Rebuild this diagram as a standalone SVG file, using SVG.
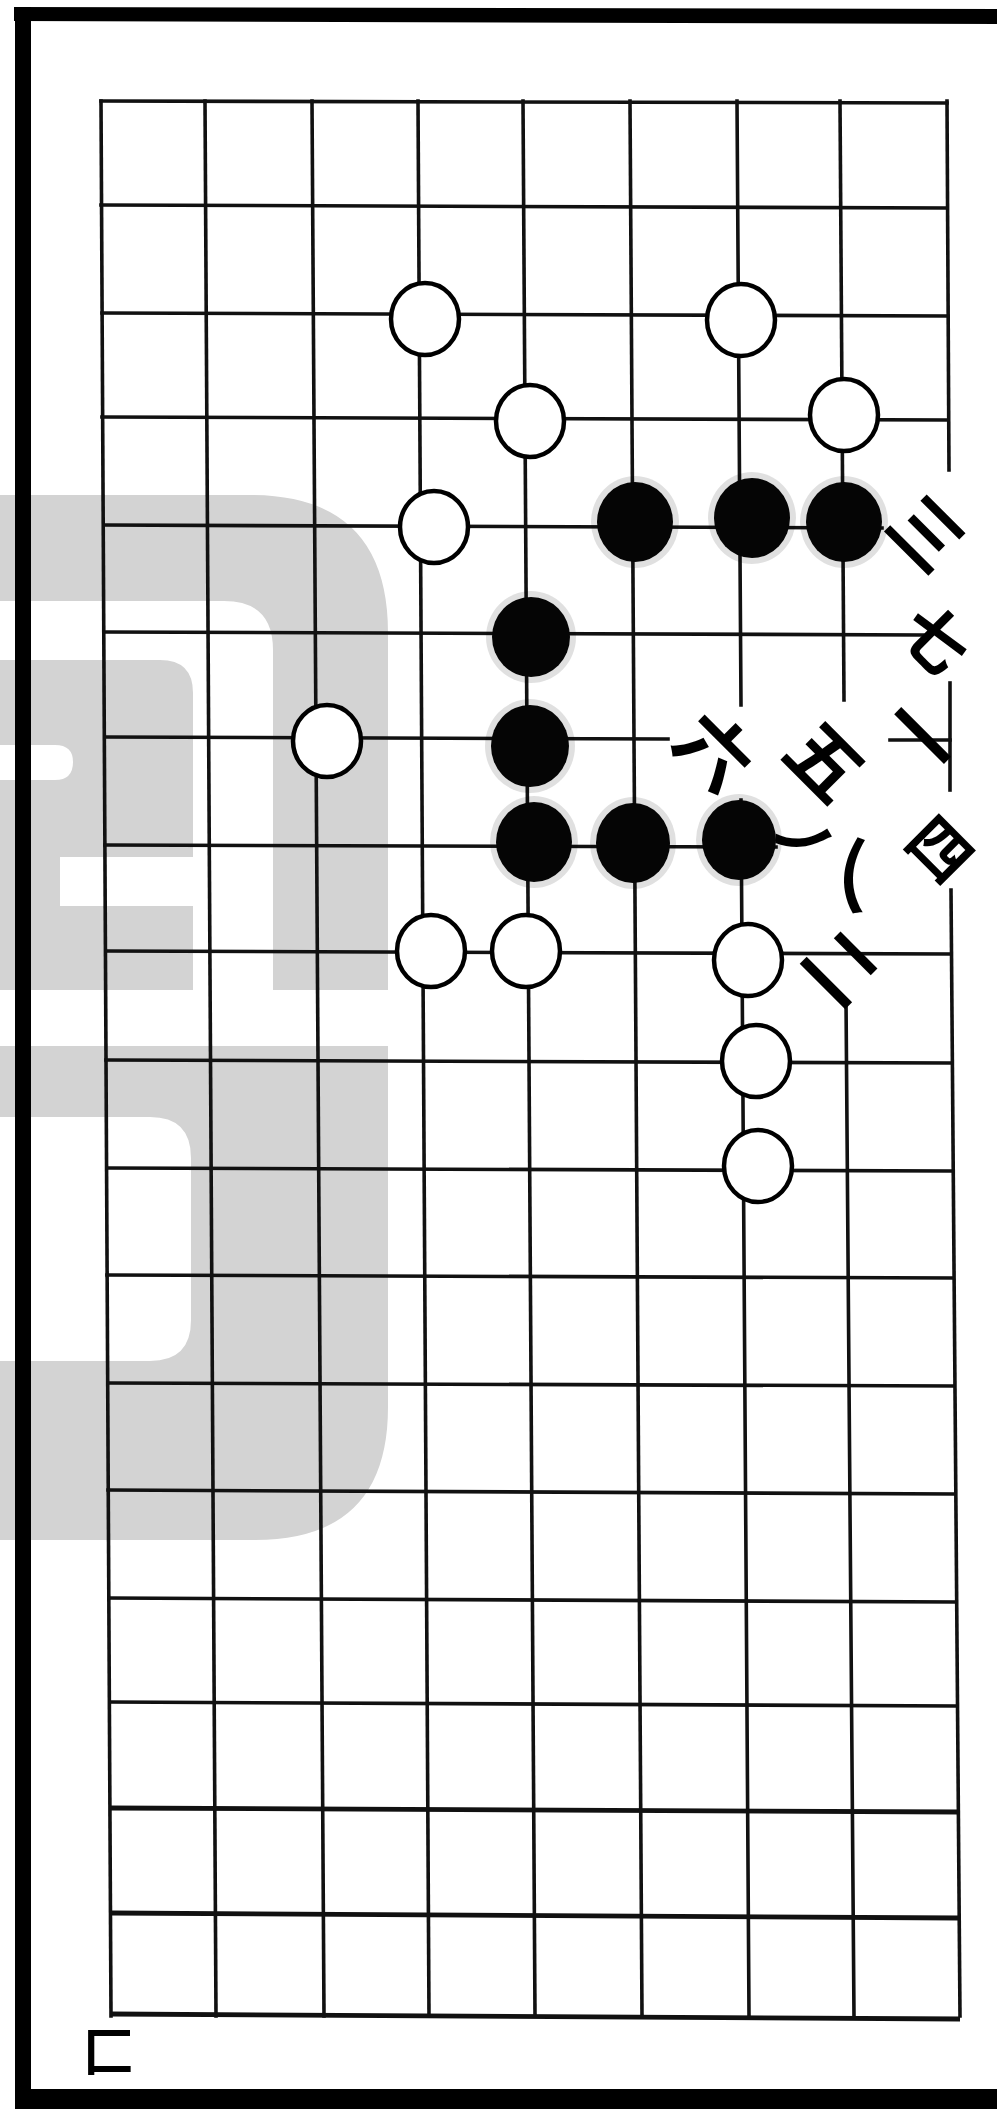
<svg xmlns="http://www.w3.org/2000/svg" width="997" height="2109" viewBox="0 0 997 2109">
<style>
.g{stroke:#111;stroke-width:3.6;stroke-linecap:square;fill:none}
.gb{stroke:#111;stroke-width:4.8;fill:none}
.w{fill:#fff;stroke:#000;stroke-width:4.5}
.b{fill:#050505}
.h{fill:#000;opacity:0.12}
.t{font-family:"Noto Sans CJK JP","Noto Sans CJK SC",sans-serif;font-weight:700;fill:#000;text-anchor:middle;dominant-baseline:central}
.wm{fill:#d3d3d3;fill-rule:evenodd}
</style>
<rect width="997" height="2109" fill="#fff"/>
<g id="watermark">
<path class="wm" d="M0,495 H250 Q388,495 388,633 V990 H273 V650 Q273,601 224,601 H0 Z"/>
<path class="wm" d="M0,660 H160 Q193,660 193,693 V990 H0 Z M0,745 H55 Q73,745 73,762 Q73,780 55,780 H0 Z M60,857 H193 V906 H60 Z"/>
<path class="wm" d="M0,1046 H388 V1407 Q388,1540 255,1540 H0 Z M0,1117 H150 Q191,1117 191,1158 V1320 Q191,1361 150,1361 H0 Z"/>
</g>
<g id="frame">
<path d="M14,7 L997,9 L997,24 L14,21 Z" fill="#000"/>
<rect x="15" y="7" width="16" height="2102" fill="#000"/>
<rect x="15" y="2089" width="982" height="20" fill="#000"/>
</g>
<g id="grid">
<line class="g" x1="101" y1="101" x2="111" y2="2016"/>
<line class="g" x1="205" y1="101" x2="216" y2="2016"/>
<line class="g" x1="312" y1="101" x2="324" y2="2016"/>
<line class="g" x1="418" y1="101" x2="429" y2="2016"/>
<line class="g" x1="523" y1="101" x2="535" y2="2016"/>
<line class="g" x1="630" y1="101" x2="642" y2="2016"/>
<line class="g" x1="737" y1="101" x2="741" y2="705"/>
<line class="g" x1="741" y1="800" x2="749" y2="2016"/>
<line class="g" x1="840" y1="101" x2="844" y2="700"/>
<line class="g" x1="846" y1="1000" x2="854" y2="2016"/>
<line class="g" x1="947" y1="101" x2="949" y2="470"/>
<line class="g" x1="950" y1="683" x2="950" y2="790"/>
<line class="g" x1="951" y1="890" x2="960" y2="2016"/>
<line class="g" x1="101" y1="101" x2="947" y2="103"/>
<line class="g" x1="101" y1="205" x2="947" y2="208"/>
<line class="g" x1="102" y1="313" x2="948" y2="316"/>
<line class="g" x1="102" y1="417" x2="948" y2="420"/>
<line class="g" x1="104" y1="525" x2="882" y2="528"/>
<line class="g" x1="104" y1="632" x2="923" y2="635"/>
<line class="g" x1="105" y1="737" x2="668" y2="739"/>
<line class="g" x1="890" y1="740" x2="950" y2="740"/>
<line class="g" x1="105" y1="845" x2="776" y2="847"/>
<line class="g" x1="106" y1="951" x2="951" y2="954"/>
<line class="g" x1="106" y1="1060" x2="952" y2="1063"/>
<line class="g" x1="107" y1="1168" x2="952" y2="1171"/>
<line class="g" x1="107" y1="1275" x2="953" y2="1278"/>
<line class="g" x1="108" y1="1383" x2="954" y2="1386"/>
<line class="g" x1="108" y1="1490" x2="955" y2="1494"/>
<line class="g" x1="109" y1="1598" x2="955" y2="1602"/>
<line class="g" x1="110" y1="1702" x2="957" y2="1706"/>
<line class="gb" x1="110" y1="1808" x2="958" y2="1812"/>
<line class="gb" x1="111" y1="1913" x2="959" y2="1918"/>
<line class="gb" x1="111" y1="2014" x2="960" y2="2019"/>
</g>
<g id="w1"><ellipse class="w" cx="425" cy="319" rx="34" ry="36"/></g>
<g id="w2"><ellipse class="w" cx="741" cy="320" rx="34" ry="36"/></g>
<g id="w3"><ellipse class="w" cx="530" cy="421" rx="34" ry="36"/></g>
<g id="w4"><ellipse class="w" cx="844" cy="415" rx="34" ry="36"/></g>
<g id="w5"><ellipse class="w" cx="434" cy="527" rx="34" ry="36"/></g>
<g id="w6"><ellipse class="w" cx="327" cy="741" rx="34" ry="36"/></g>
<g id="w7"><ellipse class="w" cx="431" cy="951" rx="34" ry="36"/></g>
<g id="w8"><ellipse class="w" cx="526" cy="951" rx="34" ry="36"/></g>
<g id="w9"><ellipse class="w" cx="748" cy="960" rx="34" ry="36"/></g>
<g id="w10"><ellipse class="w" cx="756" cy="1061" rx="34" ry="36"/></g>
<g id="w11"><ellipse class="w" cx="758" cy="1166" rx="34" ry="36"/></g>
<g id="b1"><ellipse class="h" cx="635" cy="522" rx="44" ry="46"/><ellipse class="b" cx="635" cy="522" rx="38" ry="40"/></g>
<g id="b2"><ellipse class="h" cx="752" cy="518" rx="44" ry="46"/><ellipse class="b" cx="752" cy="518" rx="38" ry="40"/></g>
<g id="b3"><ellipse class="h" cx="844" cy="522" rx="44" ry="46"/><ellipse class="b" cx="844" cy="522" rx="38" ry="40"/></g>
<g id="b4"><ellipse class="h" cx="531" cy="637" rx="45" ry="46"/><ellipse class="b" cx="531" cy="637" rx="39" ry="40"/></g>
<g id="b5"><ellipse class="h" cx="530" cy="746" rx="45" ry="47"/><ellipse class="b" cx="530" cy="746" rx="39" ry="41"/></g>
<g id="b6"><ellipse class="h" cx="534" cy="842" rx="44" ry="46"/><ellipse class="b" cx="534" cy="842" rx="38" ry="40"/></g>
<g id="b7"><ellipse class="h" cx="633" cy="843" rx="43" ry="46"/><ellipse class="b" cx="633" cy="843" rx="37" ry="40"/></g>
<g id="b8"><ellipse class="h" cx="739" cy="840" rx="43" ry="46"/><ellipse class="b" cx="739" cy="840" rx="37" ry="40"/></g>
<g id="labels">
<text class="t" font-size="72" transform="translate(930,530) rotate(45)">三</text>
<text class="t" font-size="66" transform="translate(938,636) rotate(45)">七</text>
<text class="t" font-size="76" transform="translate(925,733) rotate(45)">一</text>
<text class="t" font-size="62" transform="translate(943,846) rotate(45)">四</text>
<text class="t" font-size="74" transform="translate(829,758) rotate(45)">五</text>
<text class="t" font-size="70" transform="translate(861,870) rotate(45)">乀</text>
<text class="t" font-size="72" transform="translate(845,964) rotate(45)">二</text>
<text class="t" font-size="74" transform="translate(718,748) rotate(45)">六</text>
<text class="t" font-size="58" transform="translate(806,835) rotate(45)">ノ</text>
<text class="t" font-size="50" transform="translate(108,2048)">匚</text>
</g>
</svg>
